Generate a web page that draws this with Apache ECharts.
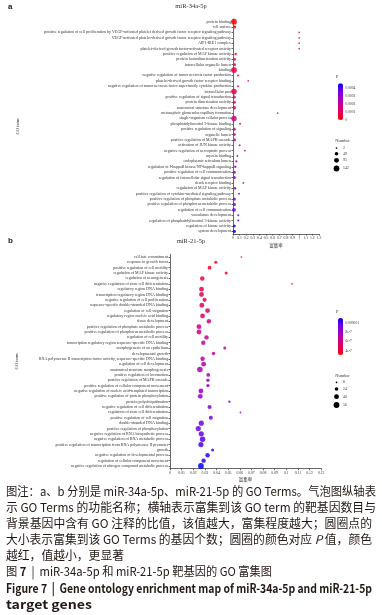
<!DOCTYPE html>
<html>
<head>
<meta charset="utf-8">
<script src="https://cdn.jsdelivr.net/npm/echarts@6/dist/echarts.min.js"></script>
<style>
  html, body { margin: 0; padding: 0; background: #fff; }
  #wrap { position: relative; width: 382px; height: 615px; overflow: hidden; }
  #chart { position: absolute; left: 0; top: 0; width: 382px; height: 486px; }
  #caption {
    position: absolute; left: 6px; top: 482.5px; width: 372px;
    font-family: "Noto Sans CJK SC", "Noto Sans", sans-serif;
    font-size: 12px; line-height: 16.2px; color: #231815;
  }
  #caption div { height: 16.2px; white-space: nowrap; }
  #caption span { display: inline-block; transform-origin: 0 50%; }
  #caption .b { font-weight: bold; font-size: 12.5px; }
</style>
</head>
<body>
<div id="wrap">
  <div id="chart"></div>
  <div id="caption">
    <div><span data-w="370">图注：a、b 分别是 miR-34a-5p、miR-21-5p 的 GO Terms。气泡图纵轴表</span></div>
    <div><span data-w="370">示 GO Terms 的功能名称；横轴表示富集到该 GO term 的靶基因数目与</span></div>
    <div><span data-w="366">背景基因中含有 GO 注释的比值，该值越大，富集程度越大；圆圈点的</span></div>
    <div><span data-w="366">大小表示富集到该 GO Terms 的基因个数；圆圈的颜色对应 <i>P</i> 值，颜色</span></div>
    <div><span data-w="118">越红，值越小，更显著</span></div>
    <div><span data-w="266">图 <b>7</b> &nbsp;|&nbsp; miR-34a-5p 和 miR-21-5p 靶基因的 GO 富集图</span></div>
    <div class="b"><span data-w="366">Figure 7 &nbsp;|&nbsp; Gene ontology enrichment map of miR-34a-5p and miR-21-5p</span></div>
    <div class="b"><span data-w="86">target genes</span></div>
  </div>
</div>
<script>
// panel a: miR-34a-5p
const termsA = [
  'protein binding',
  'cell surface',
  'positive regulation of cell proliferation by VEGF-activated platelet derived growth factor receptor signaling pathway',
  'VEGF-activated platelet-derived growth factor receptor signaling pathway',
  'AIP1-IRE1 complex',
  'platelet-derived growth factor-activated receptor activity',
  'positive regulation of MAP kinase activity',
  'protein homodimerization activity',
  'intracellular organelle lumen',
  'binding',
  'negative regulation of tumor necrosis factor production',
  'platelet-derived growth factor receptor binding',
  'negative regulation of tumor necrosis factor superfamily cytokine production',
  'intracellular part',
  'positive regulation of signal transduction',
  'protein dimerization activity',
  'anatomical structure development',
  'metanephric glomerular capillary formation',
  'single-organism cellular process',
  'phosphatidylinositol 3-kinase binding',
  'positive regulation of signaling',
  'organelle lumen',
  'positive regulation of MAPK cascade',
  'activation of JUN kinase activity',
  'negative regulation of necroptotic process',
  'myosin binding',
  'endoplasmic reticulum lumen',
  'regulation of I-kappaB kinase/NF-kappaB signaling',
  'positive regulation of cell communication',
  'regulation of intracellular signal transduction',
  'death receptor binding',
  'regulation of MAP kinase activity',
  'positive regulation of cytokine-mediated signaling pathway',
  'positive regulation of phosphate metabolic process',
  'positive regulation of phosphorus metabolic process',
  'regulation of cell communication',
  'vasculature development',
  'regulation of phosphatidylinositol 3-kinase activity',
  'regulation of kinase activity',
  'system development'
];
const ratioA = [0.015, 0.025, 1.0, 1.0, 1.0, 1.0, 0.04, 0.025, 0.025, 0.015,
  0.076, 0.23, 0.076, 0.015, 0.02, 0.02, 0.02, 0.675, 0.015, 0.107,
  0.02, 0.02, 0.025, 0.1, 0.18, 0.066, 0.05, 0.035, 0.02, 0.02,
  0.157, 0.03, 0.09, 0.02, 0.02, 0.015, 0.08, 0.08, 0.02, 0.02];
const countA = [143, 32, 2, 2, 2, 2, 15, 24, 24, 140,
  7, 3, 7, 135, 32, 32, 42, 3, 125, 7,
  32, 30, 24, 7, 4, 6, 12, 15, 32, 32,
  4, 20, 7, 34, 34, 55, 6, 6, 30, 36];
const pA = [0.0000001, 0.00001, 0.00002, 0.00002, 0.00002, 0.00002, 0.00003, 0.00004, 0.00005, 0.00007,
  0.00008, 0.00009, 0.00009, 0.0001, 0.00011, 0.00012, 0.00013, 0.00015, 0.00016, 0.00017,
  0.00018, 0.00019, 0.0002, 0.00022, 0.00023, 0.00024, 0.00025, 0.00026, 0.00027, 0.00028,
  0.0003, 0.00031, 0.00032, 0.00033, 0.00034, 0.00036, 0.00038, 0.0004, 0.00042, 0.000453];
const pTicksA = [0, 0.0001, 0.0002, 0.0003, 0.0004];
const pTickLabelsA = ['0', '0.0001', '0.0002', '0.0003', '0.0004'];
const numKeysA = [2, 49, 95, 143];

// panel b: miR-21-5p
const termsB = [
  'cell fate commitment',
  'response to growth factor',
  'positive regulation of cell motility',
  'regulation of MAP kinase activity',
  'regulation of neurogenesis',
  'negative regulation of stem cell differentiation',
  'regulatory region DNA binding',
  'transcription regulatory region DNA binding',
  'negative regulation of cell proliferation',
  'sequence-specific double-stranded DNA binding',
  'regulation of cell migration',
  'regulatory region nucleic acid binding',
  'tissue development',
  'positive regulation of phosphate metabolic process',
  'positive regulation of phosphorus metabolic process',
  'regulation of cell motility',
  'transcription regulatory region sequence-specific DNA binding',
  'morphogenesis of an epithelium',
  'developmental growth',
  'RNA polymerase II transcription factor activity, sequence-specific DNA binding',
  'regulation of cell development',
  'anatomical structure morphogenesis',
  'positive regulation of locomotion',
  'positive regulation of MAPK cascade',
  'positive regulation of cellular component movement',
  'negative regulation of nucleic acid-templated transcription',
  'positive regulation of protein phosphorylation',
  'protein polyubiquitination',
  'negative regulation of cell differentiation',
  'regulation of stem cell differentiation',
  'positive regulation of cell migration',
  'double-stranded DNA binding',
  'positive regulation of phosphorylation',
  'negative regulation of RNA biosynthetic process',
  'negative regulation of RNA metabolic process',
  'positive regulation of transcription from RNA polymerase II promoter',
  'growth',
  'negative regulation of developmental process',
  'regulation of cellular component movement',
  'negative regulation of nitrogen compound metabolic process'
];
const ratioB = [0.0614, 0.0394, 0.034, 0.0483, 0.0277, 0.105, 0.0271, 0.0271, 0.0297, 0.0274,
  0.0323, 0.028, 0.0334, 0.0249, 0.0249, 0.0314, 0.0286, 0.0471, 0.0374, 0.028,
  0.0289, 0.0257, 0.0329, 0.0326, 0.0326, 0.0266, 0.026, 0.0511, 0.034, 0.0606,
  0.0351, 0.0269, 0.0243, 0.0269, 0.028, 0.0266, 0.0366, 0.0323, 0.0289, 0.0266];
const countB = [8, 18, 26, 18, 34, 8, 40, 40, 30, 40,
  40, 40, 34, 40, 40, 34, 34, 18, 21, 34,
  40, 52, 26, 22, 22, 40, 40, 12, 30, 8,
  30, 45, 45, 45, 50, 45, 18, 34, 34, 56];
const pB = [3.05e-7, 3.3e-7, 3.6e-7, 3.9e-7, 4.2e-7, 4.4e-7, 4.6e-7, 4.8e-7, 5.0e-7, 5.2e-7,
  5.4e-7, 5.6e-7, 5.8e-7, 6.0e-7, 6.1e-7, 6.3e-7, 6.5e-7, 6.7e-7, 6.9e-7, 7.0e-7,
  7.2e-7, 7.4e-7, 7.6e-7, 7.8e-7, 8.0e-7, 8.1e-7, 8.3e-7, 8.5e-7, 8.7e-7, 8.9e-7,
  9.1e-7, 9.3e-7, 9.5e-7, 9.7e-7, 9.9e-7, 1.01e-6, 1.03e-6, 1.05e-6, 1.08e-6, 1.11e-6];
const pTicksB = [4e-7, 6e-7, 8e-7, 1e-6];
const pTickLabelsB = ['4e-7', '6e-7', '8e-7', '0.000001'];
const numKeysB = [8, 24, 40, 56];

// red -> blue (Lab-like)
const pColors = ['#ff0000', '#e80050', '#ca0089', '#9a00c3', '#7300e1', '#0000ff'];

const serif = 'Liberation Serif';

function sizer(counts) {
  const lo = Math.min(...counts), hi = Math.max(...counts);
  const dMin = 1.7, dMax = 5.8;
  return n => Math.sqrt(dMin * dMin + (dMax * dMax - dMin * dMin) * (n - lo) / (hi - lo));
}
const sizeA = sizer(countA);
const sizeB = sizer(countB);

const panels = [
  { terms: termsA, ratio: ratioA, count: countA, p: pA, size: sizeA,
    grid: { left: 233, top: 19, width: 86, height: 215 }, max: 1.3, interval: 0.1,
    pMin: 0, pMax: 0.000453, bar: { x: 338, y: 83.3, w: 5, h: 36.7 },
    pTicks: pTicksA, pLabels: pTickLabelsA, pTitleY: 77,
    numKeys: numKeysA, numTitleY: 140.7, numY: [148, 153.7, 160.3, 168.5], yNameGap: 213 },
  { terms: termsB, ratio: ratioB, count: countB, p: pB, size: sizeB,
    grid: { left: 170, top: 254.3, width: 151.2, height: 214.4 }, max: 0.13, interval: 0.01,
    pMin: 3.05e-7, pMax: 1.11e-6, bar: { x: 338, y: 318, w: 5, h: 37 },
    pTicks: pTicksB, pLabels: pTickLabelsB, pTitleY: 312,
    numKeys: numKeysB, numTitleY: 375.7, numY: [382.3, 389, 396.7, 405], yNameGap: 151 }
];

const axisLineStyle = { color: '#444', width: 0.8 };
const graphics = [];

panels.forEach(pn => {
  graphics.push({ type: 'text', x: 336, y: pn.pTitleY,
    style: { text: 'P', fontSize: 4.5, fontFamily: serif, fill: '#333', align: 'left', verticalAlign: 'middle', textAlign: 'left', textVerticalAlign: 'middle' } });
  pn.pTicks.forEach((v, i) => {
    const y = pn.bar.y + pn.bar.h * (1 - (v - pn.pMin) / (pn.pMax - pn.pMin));
    graphics.push({ type: 'text', x: pn.bar.x + pn.bar.w + 2.5, y: y,
      style: { text: pn.pLabels[i], fontSize: 3.6, fontFamily: serif, fill: '#333', align: 'left', verticalAlign: 'middle', textAlign: 'left', textVerticalAlign: 'middle' } });
  });
  graphics.push({ type: 'text', x: 342.5, y: pn.numTitleY,
    style: { text: 'Number', fontSize: 4.5, fontFamily: serif, fill: '#333', align: 'center', verticalAlign: 'middle', textAlign: 'center', textVerticalAlign: 'middle' } });
  pn.numKeys.forEach((n, i) => {
    graphics.push({ type: 'circle', shape: { cx: 336.5, cy: pn.numY[i], r: pn.size(n) / 2 }, style: { fill: '#000' } });
    graphics.push({ type: 'text', x: 343, y: pn.numY[i],
      style: { text: String(n), fontSize: 3.8, fontFamily: serif, fill: '#333', align: 'left', verticalAlign: 'middle', textAlign: 'left', textVerticalAlign: 'middle' } });
  });
});

const option = {
  animation: false,
  backgroundColor: '#fff',
  title: [
    { text: 'miR-34a-5p', left: 'center', top: 3, padding: 0,
      textStyle: { fontFamily: serif, fontSize: 6.5, fontWeight: 'normal', color: '#333' } },
    { text: 'miR-21-5p', left: 'center', top: 237.5, padding: 0,
      textStyle: { fontFamily: serif, fontSize: 6.5, fontWeight: 'normal', color: '#333' } },
    { text: 'a', left: 8, top: 2.5, padding: 0,
      textStyle: { fontFamily: 'Liberation Sans', fontSize: 8, fontWeight: 'bold', color: '#222' } },
    { text: 'b', left: 8, top: 236.5, padding: 0,
      textStyle: { fontFamily: 'Liberation Sans', fontSize: 8, fontWeight: 'bold', color: '#222' } }
  ],
  grid: panels.map(pn => Object.assign({ containLabel: false }, pn.grid)),
  xAxis: panels.map((pn, i) => ({
    type: 'value', gridIndex: i, min: 0, max: pn.max, interval: pn.interval,
    name: '富集率', nameLocation: 'middle', nameGap: 8.8,
    nameTextStyle: { fontFamily: 'Noto Sans CJK SC', fontSize: 4.5, color: '#333' },
    axisLine: { show: true, lineStyle: axisLineStyle },
    axisTick: { show: true, length: 1.5, lineStyle: axisLineStyle },
    axisLabel: { fontFamily: serif, fontSize: 3.8, color: '#333', margin: 2 },
    splitLine: { show: false }
  })),
  yAxis: panels.map((pn, i) => ({
    type: 'category', gridIndex: i, data: pn.terms, inverse: true,
    name: 'GO term', nameLocation: 'middle', nameGap: pn.yNameGap,
    nameTextStyle: { fontFamily: serif, fontSize: 4.5, color: '#333' },
    axisLine: { show: true, lineStyle: axisLineStyle },
    axisTick: { show: true, length: 1.5, alignWithLabel: true, lineStyle: axisLineStyle },
    axisLabel: { interval: 0, fontFamily: serif, fontSize: 4, color: '#333', margin: 2 },
    splitLine: { show: false }
  })),
  visualMap: panels.map((pn, i) => ({
    type: 'continuous', seriesIndex: i, dimension: 3,
    min: pn.pMin, max: pn.pMax, calculable: false, realtime: false,
    orient: 'vertical', left: pn.bar.x, top: pn.bar.y, padding: 0,
    itemWidth: pn.bar.w, itemHeight: pn.bar.h,
    inRange: { color: pColors }
  })),
  series: panels.map((pn, i) => ({
    type: 'scatter', xAxisIndex: i, yAxisIndex: i,
    data: pn.terms.map((t, k) => [pn.ratio[k], t, pn.count[k], pn.p[k]]),
    symbolSize: v => pn.size(v[2]),
    itemStyle: { opacity: 0.85 }
  })),
  graphic: { elements: graphics }
};

const chart = echarts.init(document.getElementById('chart'));
chart.setOption(option);

// squeeze/stretch each caption line to the width it has in the print
document.querySelectorAll('#caption span').forEach(s => {
  const w = s.getBoundingClientRect().width;
  const target = Number(s.dataset.w);
  if (w > 0) s.style.transform = 'scaleX(' + (target / w).toFixed(4) + ')';
});
</script>
</body>
</html>
